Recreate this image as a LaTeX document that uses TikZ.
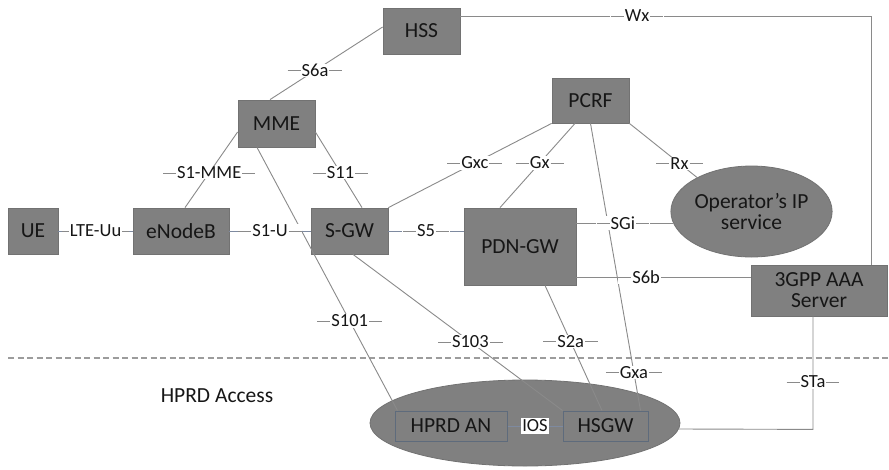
\documentclass[tikz,border=0pt]{standalone}
\usepackage{fontspec}
\setmainfont{Carlito}
\usetikzlibrary{calc,shapes.geometric}

\definecolor{boxfill}{HTML}{808080}
\definecolor{boxline}{HTML}{727272}
\definecolor{accline}{HTML}{5E6B7C}
\definecolor{linec}{HTML}{8A8A8A}
\definecolor{bluec}{HTML}{7E8AA0}
\definecolor{dashc}{HTML}{9C9C9C}
\definecolor{txt}{HTML}{161616}

% short horizontal strokes on both sides of an interface name
\newcommand\dashmark[1]{\textcolor{linec}{\rule[0.3em]{#1}{0.7pt}}}
\newcommand\linelabel[2][13pt]{\dashmark{#1}\kern1pt#2\kern1pt\dashmark{#1}}

\begin{document}
\begin{tikzpicture}[x=1pt,y=-1pt,
  box/.style={draw=boxline, fill=boxfill, line width=0.8pt, inner sep=0pt,
    font=\fontsize{21.5}{24}\selectfont, text=txt, align=center},
  accbox/.style={box, draw=accline, line width=1pt},
  oval/.style={ellipse, draw=boxline, fill=boxfill, line width=0.8pt, inner sep=0pt,
    font=\fontsize{21.5}{24}\selectfont, text=txt, align=center},
  conn/.style={draw=linec, line width=0.9pt},
  hconn/.style={draw=bluec, line width=0.9pt},
  lbl/.style={fill=white, inner sep=0.6pt, font=\fontsize{18.5}{20}\selectfont, text=txt}]

\useasboundingbox (0,0) rectangle (889,469);
\fill[white] (0,0) rectangle (889,469);

% boundary of the access network area
\draw[dashc, line width=1.2pt, dash pattern=on 6pt off 3.5pt] (8,358) coordinate (dl) -- (889,358) coordinate (dr);
\node[font=\fontsize{21.5}{24}\selectfont, text=txt] (acc) at (217,396) {HPRD Access};

% network elements
\node[box, minimum width=77pt, minimum height=46pt] (hss) at (421.5,31) {HSS};
\node[box, minimum width=77pt, minimum height=47pt] (mme) at (276.5,123.5) {MME};
\node[box, minimum width=77pt, minimum height=45pt] (pcrf) at (590.5,100.5) {PCRF};
\node[box, minimum width=50pt, minimum height=46pt] (ue) at (33,231) {UE};
\node[box, minimum width=96pt, minimum height=46pt] (enb) at (181,231) {eNodeB};
\node[box, minimum width=77pt, minimum height=46pt] (sgw) at (349.5,231) {S-GW};
\node[box, minimum width=112pt, minimum height=77pt] (pdngw) at (520,246.5) {PDN-GW};
\node[oval, minimum width=161pt, minimum height=91pt] (opip) at (751.5,211.5) {Operator’s IP\\[-3pt]service};
\node[box, minimum width=136pt, minimum height=51pt] (aaa) at (819,290.5) {3GPP AAA\\[-3pt]Server};

\node[oval, minimum width=310pt, minimum height=86pt] (hprdarea) at (525,423) {};
\node[accbox, minimum width=112pt, minimum height=30pt] (hprdan) at (451,426) {HPRD AN};
\node[accbox, minimum width=85pt, minimum height=30pt] (hsgw) at (605.5,426) {HSGW};

% interfaces
\draw[conn] ($(mme.north)+(-6.5,0)$) -- node[lbl, pos=.4] {\linelabel{S6a}} ($(hss.west)+(0,-4)$);
\draw[conn] ($(mme.west)+(0,8.5)$) -- node[lbl, pos=.54] {\linelabel{S1-MME}} ($(enb.north)+(4,0)$);
\draw[conn] ($(mme.east)+(0,8.5)$) -- node[lbl, pos=.54] {\linelabel{S11}} ($(sgw.north)+(12.5,0)$);
\draw[conn] ($(mme.south)+(-19.5,0)$) -- node[lbl, pos=.66] {\linelabel{S101}} ($(hprdan.north west)+(3,0)$);

\draw[hconn] (ue.east) -- node[lbl, inner xsep=0pt] {\linelabel[7pt]{LTE-Uu}} (enb.west);
\draw[hconn] (enb.east) -- node[lbl] {\linelabel{S1-U}} (sgw.west);
\draw[hconn] (sgw.east) -- node[lbl] {\linelabel{S5}} (sgw.east -| pdngw.west);

\draw[conn] (pcrf.south west) -- node[lbl, pos=.47] {\linelabel{Gxc}} (sgw.north east);
\draw[conn] ($(pcrf.south)+(-15.5,0)$) -- node[lbl, pos=.47] {\linelabel{Gx}} ($(pdngw.north)+(-20,0)$);
\draw[conn] (pcrf.south) -- node[lbl, pos=.868] {\linelabel{Gxa}} ($(hsgw.north east)+(-8,0)$);
\draw[conn] (pcrf.south east) -- node[lbl, pos=.74] {\linelabel{Rx}} (opip.148);

\coordinate (sgiA) at ($(pdngw.east)+(0,-23.5)$);
\draw[conn] (sgiA) -- node[lbl, pos=.48] {\linelabel{SGi}} ($(opip.west)+(2.6,11.5)$);
\coordinate (s6bA) at ($(pdngw.east)+(0,30.5)$);
\draw[conn] (s6bA) -- node[lbl, pos=.4] {\linelabel{S6b}} (s6bA -| aaa.west);

\draw[conn] ($(sgw.south)+(3.5,0)$) -- node[lbl, pos=.56] {\linelabel{S103}} (hsgw.north west);
\draw[conn] ($(pdngw.south)+(25,0)$) -- node[lbl, pos=.45] {\linelabel{S2a}} ($(hsgw.north)+(-3.5,0)$);

\coordinate (staA) at ($(aaa.south)+(-6,0)$);
\coordinate (staB) at ($(staA)+(0,113)$);
\draw[conn] (staA) -- node[lbl, pos=.58] {\linelabel{STa}} (staB) -- ($(hprdarea.east)+(-2,6)$);

\coordinate (wxA) at ($(hss.east)+(0,-15)$);
\coordinate (wxB) at ($(aaa.north east)+(-16,0)$);
\draw[conn] (wxA) -- node[lbl, pos=.43] {\linelabel{Wx}} (wxA -| wxB) -- (wxB);

\draw[hconn] (hprdan.east) -- node[lbl, inner sep=1.5pt] {IOS} (hsgw.west);

\end{tikzpicture}
\end{document}
